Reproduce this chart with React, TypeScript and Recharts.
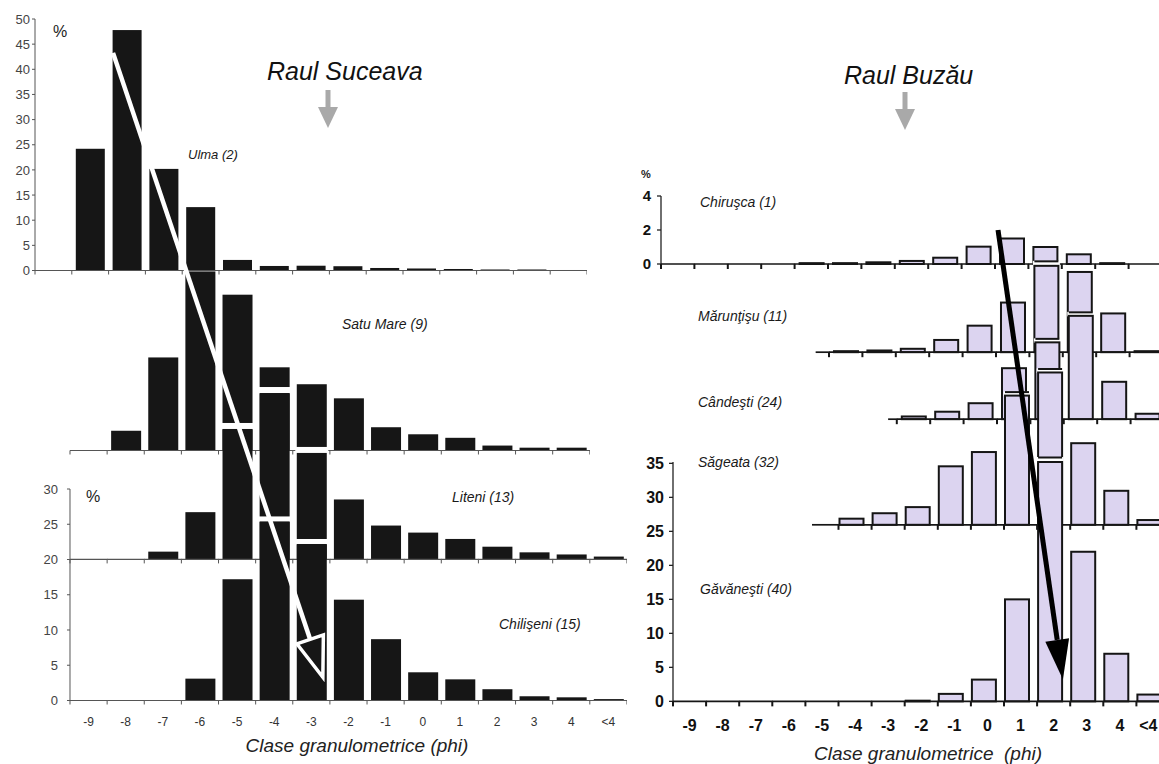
import React from 'react';
import { BarChart, Bar, XAxis, YAxis } from 'recharts';

// ---------- categories (phi classes) ----------
const CATEGORIES = ['-9', '-8', '-7', '-6', '-5', '-4', '-3', '-2', '-1', '0', '1', '2', '3', '4', '<4'];

// ---------- Raul Suceava (%) ----------
const ulma = [0, 24.2, 47.8, 20.2, 12.6, 2.1, 0.9, 0.95, 0.85, 0.5, 0.4, 0.3, 0.2, 0.2, 0.1];
const satuMare = [0, 2.8, 13.2, 25.4, 22.1, 11.8, 9.4, 7.4, 3.3, 2.3, 1.8, 0.7, 0.4, 0.4];
const liteni = [0, 0, 1.1, 6.7, 18.5, 23.6, 15.1, 8.5, 4.8, 3.8, 2.9, 1.8, 1.0, 0.7, 0.4];
const chiliseni = [0, 0, 0, 3.1, 17.2, 25.4, 22.2, 14.3, 8.7, 4.0, 3.0, 1.6, 0.6, 0.45, 0.2];

// ---------- Raul Buzau (%) ----------
const chirusca = [0, 0, 0, 0, 0.05, 0.05, 0.1, 0.18, 0.37, 1.02, 1.5, 1.0, 0.57, 0.05, 0];
const maruntisu = [0, 0, 0, 0, 0, 0.15, 0.25, 0.5, 1.8, 3.9, 7.3, 12.7, 11.8, 5.7, 0.15];
const candesti = [0, 0, 0, 0, 0, 0, 0, 0.4, 1.1, 2.35, 7.5, 11.3, 15.2, 5.5, 0.8];
const sageata = [0, 0, 0, 0, 0, 0.9, 1.7, 2.6, 8.6, 10.7, 19.0, 22.4, 12.0, 5.0, 0.7];
const gavanesti = [0, 0, 0, 0, 0, 0, 0, 0.1, 1.1, 3.2, 15.0, 35.2, 22.0, 7.0, 1.0];

// ---------- axis tick values ----------
const ulmaTicks = [0, 5, 10, 15, 20, 25, 30, 35, 40, 45, 50];
const suceavaLowTicks = [0, 5, 10, 15, 20, 25, 30];
const chiruscaTicks = [0, 2, 4];
const buzauLowTicks = [0, 5, 10, 15, 20, 25, 30, 35];

const FONT = 'Arial, "Liberation Sans", Helvetica, sans-serif';
const PAGE_W = 1159;
const YW = 60;
const XH = 44;
const MT = 14;

type Geom = { left: number; band: number; base: number; ppu: number };

const G_ULMA: Geom = { left: 35, band: 36.8, base: 270.7, ppu: 5.03 };
const G_SATU: Geom = { left: 70, band: 37.13, base: 450, ppu: 7.05 };
const G_LITENI: Geom = { left: 70, band: 37.13, base: 559.5, ppu: 7.05 };
const G_CHIL: Geom = { left: 70, band: 37.13, base: 700.5, ppu: 7.05 };
const G_CHIR: Geom = { left: 661, band: 33.4, base: 264, ppu: 17 };
const G_MARU: Geom = { left: 662, band: 33.4, base: 352.3, ppu: 6.8 };
const G_CAND: Geom = { left: 663, band: 33.4, base: 419.3, ppu: 6.8 };
const G_SAGE: Geom = { left: 673, band: 33.1, base: 524.3, ppu: 6.8 };
const G_GAVA: Geom = { left: 673, band: 33.1, base: 701.7, ppu: 6.8 };

const gx = (g: Geom, pos: number) => g.left + pos * g.band;
const gy = (g: Geom, v: number) => g.base - v * g.ppu;

type BarStyle = { fill: string; stroke: string; strokeWidth: number; barSize: number; shift?: number };
type AxisStyle = { color: string; width: number; tickLen: number; tickWidth: number; lineFrom?: number };
type XLabelStyle = { size: number; weight: number | string; color: string; dy: number };
type YAxisStyle = {
  ticks: number[]; size: number; weight: number | string; color: string;
  tickSize: number; tickMargin: number; lineColor: string; lineWidth: number;
};

type StripProps = {
  values: number[];
  g: Geom;
  max: number;
  bar: BarStyle;
  halo?: number;
  upperBase?: number;
  closeLine?: boolean;
  axis: AxisStyle;
  xLabel?: XLabelStyle;
  yAxis?: YAxisStyle;
};

function Strip(p: StripProps) {
  const n = p.values.length;
  const data = p.values.map((v, i) => ({ c: CATEGORIES[i], v }));
  const plotH = p.max * p.g.ppu;
  const W = YW + n * p.g.band;
  const H = MT + plotH + XH;
  const divLeft = p.g.left - YW;
  const divTop = p.g.base - plotH - MT;
  const band = p.g.band;
  const halo = p.halo ?? 0;
  const shift = p.bar.shift ?? 0;
  const lf = p.axis.lineFrom ?? 0;

  const shape = (sp: any) => {
    const { x, y, width, height } = sp;
    if (!(height > 0)) return <g />;
    const bx = x + shift;
    const els: React.ReactNode[] = [];
    if (halo > 0) {
      els.push(<rect key="h" x={bx - 1.5} y={y - halo} width={width + 3} height={halo + 0.5} fill="#ffffff" />);
      if (p.closeLine && p.upperBase !== undefined && divTop + y - halo < p.upperBase) {
        els.push(
          <line key="c" x1={bx} x2={bx + width} y1={y - halo + 0.5} y2={y - halo + 0.5}
            stroke={p.bar.stroke} strokeWidth={p.bar.strokeWidth} />
        );
      }
    }
    els.push(
      <rect key="b" x={bx} y={y} width={width} height={height} fill={p.bar.fill}
        stroke={p.bar.stroke} strokeWidth={p.bar.strokeWidth} />
    );
    return <g>{els}</g>;
  };

  const renderTick = (tp: any) => {
    const { x, y, index, payload } = tp;
    const i: number = index;
    const half = band / 2;
    const bandL = x - half;
    const bandR = x + half;
    const els: React.ReactNode[] = [];
    if (i + 1 > lf) {
      const sx = bandL + Math.max(0, lf - i) * band;
      els.push(<line key="l" x1={sx} x2={bandR + 0.5} y1={y} y2={y} stroke={p.axis.color} strokeWidth={p.axis.width} />);
    }
    if (i >= lf) {
      els.push(<line key="t" x1={bandL} x2={bandL} y1={y} y2={y + p.axis.tickLen} stroke={p.axis.color} strokeWidth={p.axis.tickWidth} />);
    }
    if (i === n - 1) {
      els.push(<line key="t2" x1={bandR} x2={bandR} y1={y} y2={y + p.axis.tickLen} stroke={p.axis.color} strokeWidth={p.axis.tickWidth} />);
    }
    if (p.xLabel) {
      const text = String(payload.value);
      const halfW = text.length * p.xLabel.size * 0.3;
      const lx = Math.min(x, PAGE_W - divLeft - halfW - 1);
      els.push(
        <text key="x" x={lx} y={y + p.xLabel.dy} textAnchor="middle" fontSize={p.xLabel.size}
          fontWeight={p.xLabel.weight} fill={p.xLabel.color} fontFamily={FONT}>
          {text}
        </text>
      );
    }
    return <g>{els}</g>;
  };

  const ya = p.yAxis;

  return (
    <div style={{ position: 'absolute', left: divLeft, top: divTop, width: W, height: H }}>
      <BarChart width={W} height={H} data={data} margin={{ top: MT, right: 0, bottom: 0, left: 0 }}>
        <XAxis dataKey="c" type="category" interval={0} height={XH} axisLine={false} tickLine={false}
          tickSize={0} tickMargin={0} tick={renderTick} />
        {ya ? (
          <YAxis type="number" domain={[0, p.max]} ticks={ya.ticks} width={YW} interval={0}
            axisLine={{ stroke: ya.lineColor, strokeWidth: ya.lineWidth }}
            tickLine={{ stroke: ya.lineColor, strokeWidth: ya.lineWidth }}
            tickSize={ya.tickSize} tickMargin={ya.tickMargin}
            tick={{ fontSize: ya.size, fontWeight: ya.weight, fill: ya.color, fontFamily: FONT }} />
        ) : (
          <YAxis type="number" domain={[0, p.max]} ticks={[0]} width={YW} axisLine={false} tickLine={false} tick={false} />
        )}
        <Bar dataKey="v" barSize={p.bar.barSize} isAnimationActive={false} shape={shape} />
      </BarChart>
    </div>
  );
}

// ---------- styles ----------
const LEFT_BAR: BarStyle = { fill: '#161616', stroke: 'none', strokeWidth: 0, barSize: 30 };
const RIGHT_BAR: BarStyle = { fill: '#dcd4f0', stroke: '#151515', strokeWidth: 2, barSize: 24 };
const RIGHT_BAR_B: BarStyle = { ...RIGHT_BAR, shift: -4 };
const LEFT_AXIS: AxisStyle = { color: '#555', width: 1.1, tickLen: 4, tickWidth: 1 };
const RIGHT_AXIS: AxisStyle = { color: '#161616', width: 1.7, tickLen: 5, tickWidth: 2 };
const LEFT_XLABEL: XLabelStyle = { size: 12, weight: 'normal', color: '#333', dy: 26 };
const RIGHT_XLABEL: XLabelStyle = { size: 16, weight: 'bold', color: '#111', dy: 30 };

function arrowHead(s: number[], t: number[], len: number, hw: number) {
  const dx = t[0] - s[0];
  const dy = t[1] - s[1];
  const L = Math.hypot(dx, dy);
  const ux = dx / L;
  const uy = dy / L;
  const bx = t[0] - ux * len;
  const by = t[1] - uy * len;
  const c1 = [bx - uy * hw, by + ux * hw];
  const c2 = [bx + uy * hw, by - ux * hw];
  return { bx, by, pts: `${c1[0]},${c1[1]} ${t[0]},${t[1]} ${c2[0]},${c2[1]}` };
}

function Overlay() {
  // white arrow (Suceava): from Ulma class -7 to Chiliseni class -3
  const wS = [gx(G_ULMA, 2.12), gy(G_ULMA, 43.3)];
  const wT = [gx(G_CHIL, 6.81), gy(G_CHIL, 3.3)];
  const wH = arrowHead(wS, wT, 40, 14);
  // black arrow (Buzau): from Chirusca class 1 to Gavanesti class 2
  const bS = [gx(G_CHIR, 10.09), gy(G_CHIR, 2.0)];
  const bT = [gx(G_GAVA, 11.78), gy(G_GAVA, 3.26)];
  const bH = arrowHead(bS, bT, 40, 12);

  const italic = { fontFamily: FONT, fontStyle: 'italic' as const };
  const lab = { ...italic, fontSize: 14, fill: '#1a1a1a' };

  return (
    <svg width={1159} height={764} style={{ position: 'absolute', left: 0, top: 0 }}>
      {/* titles */}
      <text x={267} y={80} fontSize={25} fill="#111" {...italic}>Raul Suceava</text>
      <text x={844} y={84} fontSize={25} fill="#111" {...italic}>Raul Buzău</text>
      {/* grey pointers */}
      <rect x={325.5} y={90} width={5} height={18} fill="#a9a9a9" />
      <polygon points="318,107 338,107 328,128" fill="#a9a9a9" />
      <rect x={902.5} y={92} width={5} height={18} fill="#a9a9a9" />
      <polygon points="895,109 915,109 905,130" fill="#a9a9a9" />

      {/* percent signs */}
      <text x={53} y={37} fontSize={16} fill="#222" fontFamily={FONT}>%</text>
      <text x={86} y={502} fontSize={16} fill="#222" fontFamily={FONT}>%</text>
      <text x={641} y={178} fontSize={11} fontWeight="bold" fill="#222" fontFamily={FONT}>%</text>

      {/* station labels */}
      <text x={188} y={159} {...lab} fontSize={13}>Ulma (2)</text>
      <text x={342} y={329} {...lab}>Satu Mare (9)</text>
      <text x={452} y={502} {...lab}>Liteni (13)</text>
      <text x={499} y={629} {...lab}>Chilişeni (15)</text>
      <text x={700} y={207} {...lab}>Chiruşca (1)</text>
      <text x={698} y={321} {...lab}>Mărunţişu (11)</text>
      <text x={698} y={407} {...lab}>Cândeşti (24)</text>
      <text x={698} y={467} {...lab}>Săgeata (32)</text>
      <text x={700} y={594} {...lab}>Găvăneşti (40)</text>

      {/* axis titles */}
      <text x={357} y={752} fontSize={19} fill="#222" textAnchor="middle" {...italic}>Clase granulometrice (phi)</text>
      <text x={928} y={760} fontSize={19} fill="#222" textAnchor="middle" {...italic} style={{ whiteSpace: 'pre' }}>Clase granulometrice  (phi)</text>

      {/* white trend arrow */}
      <line x1={wS[0]} y1={wS[1]} x2={wH.bx} y2={wH.by} stroke="#ffffff" strokeWidth={4.5} />
      <polygon points={wH.pts} fill="none" stroke="#ffffff" strokeWidth={3.5} strokeLinejoin="miter" />

      {/* black trend arrow */}
      <line x1={bS[0]} y1={bS[1]} x2={bH.bx} y2={bH.by} stroke="#000" strokeWidth={5} />
      <polygon points={bH.pts} fill="#000" />
    </svg>
  );
}

export default function App() {
  return (
    <div style={{ position: 'absolute', left: 0, top: 0, width: PAGE_W, height: 764, overflow: 'hidden', background: '#fff', fontFamily: FONT }}>
      {/* ---- Raul Suceava ---- */}
      <Strip values={ulma} g={G_ULMA} max={50} bar={{ ...LEFT_BAR, barSize: 29 }} axis={LEFT_AXIS}
        yAxis={{ ticks: ulmaTicks, size: 13, weight: 'normal', color: '#444', tickSize: 3, tickMargin: 2, lineColor: '#555', lineWidth: 1 }} />
      <Strip values={satuMare} g={G_SATU} max={30} bar={LEFT_BAR} axis={LEFT_AXIS} />
      <Strip values={liteni} g={G_LITENI} max={28} bar={LEFT_BAR} halo={6} axis={LEFT_AXIS} />
      <Strip values={chiliseni} g={G_CHIL} max={30} bar={LEFT_BAR} halo={5} axis={LEFT_AXIS} xLabel={LEFT_XLABEL}
        yAxis={{ ticks: suceavaLowTicks, size: 13, weight: 'normal', color: '#444', tickSize: 3, tickMargin: 9, lineColor: '#555', lineWidth: 1 }} />

      {/* ---- Raul Buzau ---- */}
      <Strip values={chirusca} g={G_CHIR} max={4} bar={RIGHT_BAR} axis={RIGHT_AXIS}
        yAxis={{ ticks: chiruscaTicks, size: 15, weight: 'bold', color: '#111', tickSize: 4, tickMargin: 6, lineColor: '#222', lineWidth: 1.3 }} />
      <Strip values={maruntisu} g={G_MARU} max={14} bar={RIGHT_BAR} halo={5} upperBase={G_CHIR.base} closeLine
        axis={{ ...RIGHT_AXIS, lineFrom: 4.6 }} />
      <Strip values={candesti} g={G_CAND} max={16.5} bar={RIGHT_BAR} halo={4} upperBase={G_MARU.base} closeLine
        axis={{ ...RIGHT_AXIS, lineFrom: 6.74 }} />
      <Strip values={sageata} g={G_SAGE} max={23.5} bar={RIGHT_BAR_B} halo={4} upperBase={G_CAND.base} closeLine
        axis={{ ...RIGHT_AXIS, lineFrom: 4.2 }} />
      <Strip values={gavanesti} g={G_GAVA} max={35.2} bar={RIGHT_BAR_B} halo={5} upperBase={G_SAGE.base} closeLine
        axis={RIGHT_AXIS} xLabel={RIGHT_XLABEL}
        yAxis={{ ticks: buzauLowTicks, size: 16, weight: 'bold', color: '#111', tickSize: 4, tickMargin: 5, lineColor: '#222', lineWidth: 1.3 }} />

      <Overlay />
    </div>
  );
}
